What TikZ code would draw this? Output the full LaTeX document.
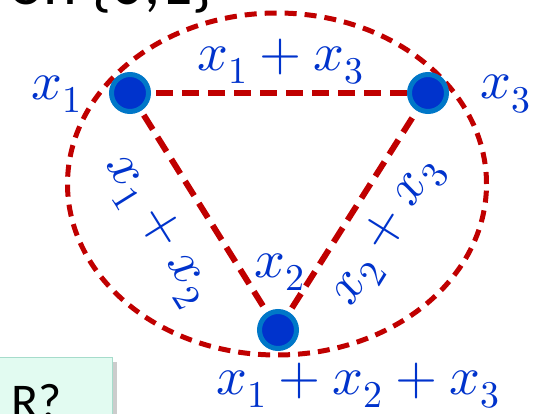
\documentclass[tikz,border=0pt]{standalone}
\usepackage{fontspec}
\usepackage{unicode-math}
\setmainfont{Carlito}
\setmathfont{Latin Modern Math}
\usetikzlibrary{shapes.geometric}
\definecolor{dred}{HTML}{C00000}
\definecolor{nblue}{HTML}{0033CC}
\definecolor{rblue}{HTML}{0077C8}
\definecolor{mint}{HTML}{E2FBF1}
\definecolor{mintb}{HTML}{A6DCCB}
\begin{document}
\begin{tikzpicture}[x=1pt,y=-1pt,
  vert/.style={circle,fill=nblue,draw=rblue,line width=5pt,minimum size=37pt,inner sep=0pt},
  redge/.style={dred,line width=6pt,dash pattern=on 17pt off 9pt},
  lab/.style={text=nblue,font=\fontsize{54}{64}\selectfont,inner sep=0pt}]
\useasboundingbox (0,0) rectangle (538,414);
\begin{scope}
\clip (0,0) rectangle (538,414);
% top cut-off text
\node[anchor=base east,font=\fontsize{64}{74}\selectfont,inner sep=0pt] (top) at (213,5) {on \{0,1\}};
% bottom-left box
\fill[gray!40] (-5,362) rectangle (117,420);
\node[draw=mintb,fill=mint,line width=1.2pt,minimum width=118pt,minimum height=70pt,anchor=north west,inner sep=0pt] (box) at (-6,357) {};
\node[anchor=base west,font=\fontsize{50}{58}\selectfont,inner sep=0pt] (q) at (11,418) {R?};
% ellipse
\node[draw=dred,line width=5pt,dash pattern=on 12pt off 8pt,ellipse,minimum width=419pt,minimum height=342pt,inner sep=0pt] (ell) at (277,184) {};
\end{scope}
\coordinate (a) at (130,93);
\coordinate (b) at (428,93);
\coordinate (c) at (278,330);
\draw[redge] (a) -- (b);
\draw[redge] (a) -- (c);
\draw[redge] (c) -- (b);
\node[vert] (A) at (a) {};
\node[vert] (B) at (b) {};
\node[vert] (C) at (c) {};
\node[lab] (lA) at (57,94) {$x_1$};
\node[lab] (lB) at (506,94) {$x_3$};
\node[lab] (lC) at (280,272) {$x_2$};
\node[lab] (lAB) at (281,62) {$x_1+x_3$};
\node[lab] (lABC) at (358,386) {$x_1+x_2+x_3$};
\node[lab,rotate=-58] (lAC) at (157,230) {$x_1+x_2$};
\node[lab,rotate=58] (lCB) at (388,232) {$x_2+x_3$};
\end{tikzpicture}
\end{document}
